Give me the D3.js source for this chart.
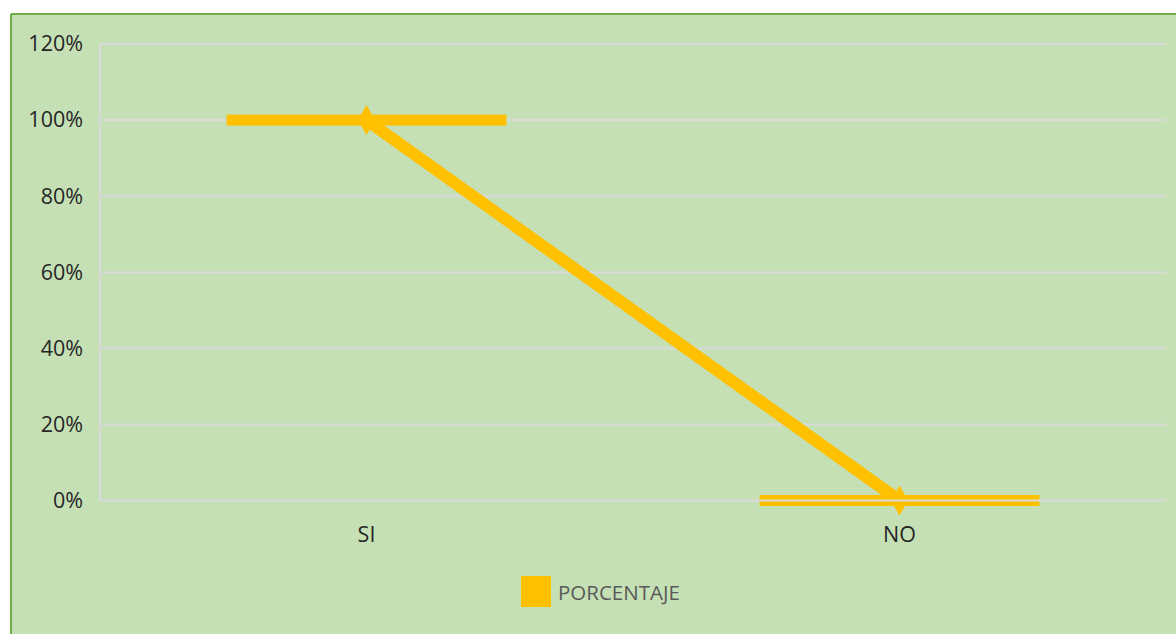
<!DOCTYPE html>
<html><head><meta charset="utf-8">
<script src="https://cdn.jsdelivr.net/npm/d3@7"></script>
<style>html,body{margin:0;padding:0;background:#fff;}svg{display:block;}</style>
</head><body>
<script>
const categories = ["SI", "NO"];
const values = [1.0, 0.0];
const yTicks = [0, 0.2, 0.4, 0.6, 0.8, 1.0, 1.2];
const seriesName = "PORCENTAJE";

const W = 1176, H = 634;
const svg = d3.select("body").append("svg").attr("width", W).attr("height", H);

// chart area background + border
svg.append("rect").attr("x", 11).attr("y", 14).attr("width", W - 11).attr("height", H - 14).attr("fill", "#c5e0b4");
svg.append("line").attr("x1", 11).attr("x2", W).attr("y1", 14).attr("y2", 14).attr("stroke", "#70ad47").attr("stroke-width", 2);
svg.append("line").attr("x1", 11).attr("x2", 11).attr("y1", 14).attr("y2", H).attr("stroke", "#70ad47").attr("stroke-width", 2);

const plot = {left: 100, right: 1166, top: 44, bottom: 500.5};
const x = d3.scaleBand().domain(categories).range([plot.left, plot.right]);
const y = d3.scaleLinear().domain([0, 1.2]).range([plot.bottom, plot.top]);

// gridlines
svg.append("g").selectAll("line").data(yTicks).join("line")
  .attr("x1", plot.left).attr("x2", plot.right)
  .attr("y1", d => y(d)).attr("y2", d => y(d))
  .attr("stroke", "#d9d9d9").attr("stroke-width", 2);
svg.append("line").attr("x1", plot.left).attr("x2", plot.left)
  .attr("y1", plot.top).attr("y2", plot.bottom)
  .attr("stroke", "#d9d9d9").attr("stroke-width", 2);

// y axis labels
const yAxis = d3.axisLeft(y).tickValues(yTicks).tickFormat(d3.format(".0%")).tickSize(0).tickPadding(17);
const ga = svg.append("g").attr("transform", `translate(${plot.left},0)`).call(yAxis);
ga.select(".domain").remove();
ga.selectAll("text").attr("font-family", "Open Sans").attr("font-size", 21.5).attr("fill", "#262626");

// x axis labels
const xAxis = d3.axisBottom(x).tickSize(0).tickPadding(26);
const gx = svg.append("g").attr("transform", `translate(0,${plot.bottom})`).call(xAxis);
gx.select(".domain").remove();
gx.selectAll("text").attr("font-family", "Open Sans").attr("font-size", 21.5).attr("fill", "#262626");

const color = "#ffc000";
const cx = d => x(d) + x.bandwidth() / 2;
const dashW = x.bandwidth() * 0.525;

// horizontal dash bars
svg.append("g").selectAll("rect").data(categories).join("rect")
  .attr("x", d => cx(d) - dashW / 2)
  .attr("y", (d, i) => y(values[i]) - 5.5)
  .attr("width", dashW).attr("height", 11)
  .attr("fill", color);

// line
const line = d3.line().x(d => cx(d)).y((d, i) => y(values[i]));
svg.append("path").datum(categories).attr("d", line)
  .attr("fill", "none").attr("stroke", color).attr("stroke-width", 12);

// markers
svg.append("g").selectAll("path").data(categories).join("path")
  .attr("d", d3.symbol(d3.symbolDiamond, 260))
  .attr("transform", (d, i) => `translate(${cx(d)},${y(values[i])})`)
  .attr("fill", color);

// axis line at zero drawn on top
svg.append("line").attr("x1", x("NO") + x.bandwidth()*0.2).attr("x2", x("NO") + x.bandwidth()*0.8)
  .attr("y1", y(0)).attr("y2", y(0)).attr("stroke", "#d9d9d9").attr("stroke-width", 2);

// legend
const lg = svg.append("g").attr("transform", "translate(521,576)");
lg.append("rect").attr("width", 30).attr("height", 31).attr("fill", color);
lg.append("text").attr("x", 37).attr("y", 24).text(seriesName)
  .attr("font-family", "Open Sans").attr("font-size", 20.5).attr("fill", "#595959");
</script>
</body></html>
